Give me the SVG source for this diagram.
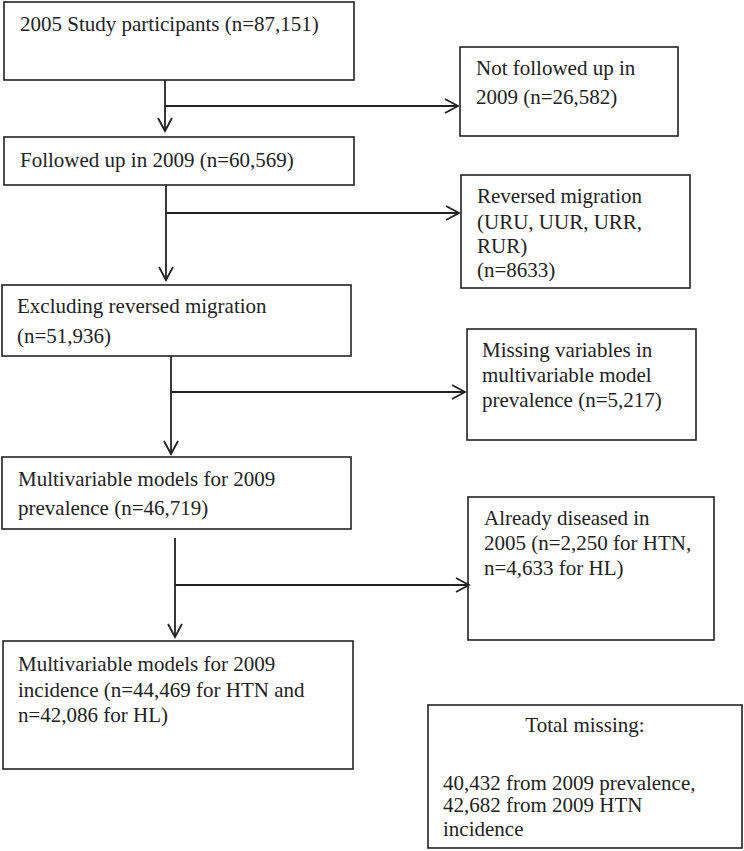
<svg xmlns="http://www.w3.org/2000/svg" width="744" height="851" viewBox="0 0 744 851">
<defs>
<style>
.box{fill:#fff;stroke:#222;stroke-width:1.6}
.t{font-family:"Liberation Serif","Times New Roman",serif;font-size:21px;fill:#222}
.c{fill:none;stroke:#222;stroke-width:1.8}
</style>
<marker id="ah" markerUnits="userSpaceOnUse" markerWidth="20" markerHeight="20" refX="14" refY="8" orient="auto" viewBox="0 0 20 20">
<path d="M1,1 L14,8 L1,15" fill="none" stroke="#222" stroke-width="1.8"/>
</marker>
</defs>
<rect width="744" height="851" fill="#fff"/>
<g id="n1"><rect class="box" x="4" y="2" width="350" height="78"/><text class="t" x="20" y="31">2005 Study participants (n=87,151)</text></g>
<g id="n2"><rect class="box" x="460" y="47" width="218" height="89"/><text class="t" x="476" y="75">Not followed up in</text><text class="t" x="476" y="104">2009 (n=26,582)</text></g>
<g id="n3"><rect class="box" x="4" y="137" width="350" height="48"/><text class="t" x="20" y="167">Followed up in 2009 (n=60,569)</text></g>
<g id="n4"><rect class="box" x="461" y="175" width="229" height="113"/><text class="t" x="477" y="203">Reversed migration</text><text class="t" x="477" y="229">(URU, UUR, URR,</text><text class="t" x="477" y="253">RUR)</text><text class="t" x="477" y="277">(n=8633)</text></g>
<g id="n5"><rect class="box" x="2" y="285" width="349" height="71"/><text class="t" x="17" y="313">Excluding reversed migration</text><text class="t" x="17" y="343">(n=51,936)</text></g>
<g id="n6"><rect class="box" x="467" y="329" width="229" height="111"/><text class="t" x="482" y="357">Missing variables in</text><text class="t" x="482" y="382">multivariable model</text><text class="t" x="482" y="407">prevalence (n=5,217)</text></g>
<g id="n7"><rect class="box" x="2" y="457" width="349" height="72"/><text class="t" x="18" y="486">Multivariable models for 2009</text><text class="t" x="18" y="515">prevalence (n=46,719)</text></g>
<g id="n8"><rect class="box" x="468" y="497" width="246" height="143"/><text class="t" x="484" y="525">Already diseased in</text><text class="t" x="484" y="550">2005 (n=2,250 for HTN,</text><text class="t" x="484" y="575">n=4,633 for HL)</text></g>
<g id="n9"><rect class="box" x="3" y="641" width="350" height="128"/><text class="t" x="18" y="671">Multivariable models for 2009</text><text class="t" x="18" y="697">incidence (n=44,469 for HTN and</text><text class="t" x="18" y="722">n=42,086 for HL)</text></g>
<g id="n10"><rect class="box" x="428" y="705" width="314" height="143"/><text class="t" x="585" y="732" text-anchor="middle">Total missing:</text><text class="t" x="443" y="790">40,432 from 2009 prevalence,</text><text class="t" x="443" y="812">42,682 from 2009 HTN</text><text class="t" x="443" y="836">incidence</text></g>
<g id="connectors">
<path class="c" d="M165,80 V131" marker-end="url(#ah)"/>
<path class="c" d="M165,106 H458" marker-end="url(#ah)"/>
<path class="c" d="M166,185 V280" marker-end="url(#ah)"/>
<path class="c" d="M166,213 H459" marker-end="url(#ah)"/>
<path class="c" d="M171,356 V454" marker-end="url(#ah)"/>
<path class="c" d="M171,392 H465" marker-end="url(#ah)"/>
<path class="c" d="M175,538 V637" marker-end="url(#ah)"/>
<path class="c" d="M175,585 H469" marker-end="url(#ah)"/>
</g>
</svg>
